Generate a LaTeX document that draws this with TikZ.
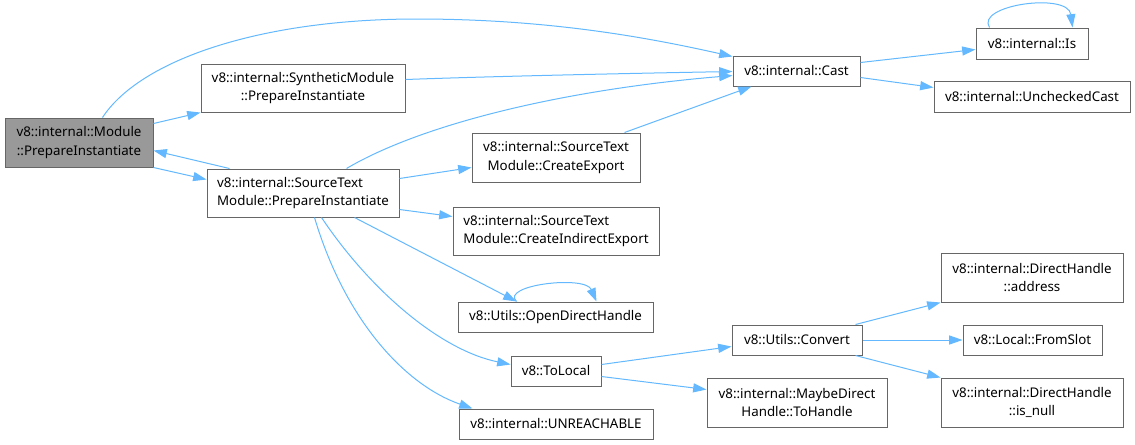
\documentclass[tikz,border=0pt]{standalone}
\usepackage{fontspec}
\setmainfont{Noto Sans}
\usetikzlibrary{arrows.meta,calc}
\definecolor{edgeblue}{HTML}{63B8FF}
\definecolor{boxline}{HTML}{666666}
\definecolor{mainfill}{HTML}{999999}
\tikzset{
  fn/.style 2 args={draw=boxline, line width=0.75pt, fill=white, inner sep=0pt,
    minimum width=#1*0.75pt, minimum height=#2*0.75pt, align=center,
    font=\fontsize{10pt}{13.9pt}\selectfont},
  call/.style={draw=edgeblue, line width=0.75pt, -{Triangle[length=10pt,width=6.8pt]}}
}
\begin{document}
\begin{tikzpicture}[x=0.75pt,y=-0.75pt]
\useasboundingbox (0,0) rectangle (1135,444);
\node[fn={148}{49}, fill=mainfill] (mod) at (79,142.5) {v8::internal::Module\\::PrepareInstantiate};
\node[fn={204}{48}] (syn) at (303,88) {v8::internal::SyntheticModule\\::PrepareInstantiate};
\node[fn={192}{48}, align=left] (stp) at (303,193) {v8::internal::SourceText\\Module::PrepareInstantiate};
\node[fn={168}{49}] (cex) at (556,157.5) {v8::internal::SourceText\\Module::CreateExport};
\node[fn={206}{48}, align=left] (cie) at (556,231) {v8::internal::SourceText\\Module::CreateIndirectExport};
\node[fn={195}{30}] (odh) at (555.5,317) {v8::Utils::OpenDirectHandle};
\node[fn={90}{30}] (tol) at (556,371) {v8::ToLocal};
\node[fn={194}{30}] (unr) at (556,424) {v8::internal::UNREACHABLE};
\node[fn={127}{30}] (cast) at (796.5,71) {v8::internal::Cast};
\node[fn={112}{31}] (is) at (1032,43.5) {v8::internal::Is};
\node[fn={196}{31}] (uc) at (1032,96.5) {v8::internal::UncheckedCast};
\node[fn={130}{30}] (conv) at (797,340) {v8::Utils::Convert};
\node[fn={182}{49}] (addr) at (1032,277.5) {v8::internal::DirectHandle\\::address};
\node[fn={139}{30}] (fs) at (1032.5,340) {v8::Local::FromSlot};
\node[fn={182}{49}] (isn) at (1032,402.5) {v8::internal::DirectHandle\\::is\_null};
\node[fn={180}{49}] (mdh) at (797,402.5) {v8::internal::MaybeDirect\\Handle::ToHandle};

% edges
\draw[call] ($(mod.north west)+(98,0)$) .. controls (140,60) and (260,19) .. (417,19)
  .. controls (550,19) and (650,38) .. ($(cast.north west)+(0,1)$);
\draw[call] ($(mod.north east)+(0,6)$) -- (syn.south west);
\draw[call] (mod.south east) -- ($(stp.north west)+(0,11)$);
\draw[call] ($(stp.north west)+(23,0)$) -- ($(mod.north east)+(0,33)$);
\draw[call] ($(syn.north east)+(0,16)$) .. controls (500,76) and (650,73) .. ($(cast.north west)+(0,16)$);
\draw[call] ($(stp.north west)+(140,0)$) .. controls (420,125) and (560,90) .. ($(cast.north west)+(0,20)$);
\draw[call] ($(cex.north west)+(153,0)$) -- ($(cast.south west)+(19,0)$);
\draw[call] ($(stp.north east)+(0,10)$) -- ($(cex.north west)+(0,35)$);
\draw[call] ($(stp.north east)+(0,41)$) -- ($(cie.north west)+(0,10)$);
\draw[call] ($(stp.south west)+(148,0)$) -- ($(odh.north west)+(59,0)$);
\draw[call] ($(odh.north west)+(59,0)$) .. controls (500,285) and (585,275) .. ($(odh.north west)+(139,0)$);
\draw[call] ($(stp.south west)+(115,0)$) .. controls (370,290) and (440,350) .. ($(tol.north west)+(0,9)$);
\draw[call] ($(stp.south west)+(108,0)$) .. controls (345,320) and (405,385) .. ($(unr.north west)+(14,0)$);
\draw[call] ($(tol.north east)+(0,9)$) -- ($(conv.north west)+(0,22)$);
\draw[call] ($(tol.north east)+(0,21)$) -- ($(mdh.north west)+(0,12)$);
\draw[call] ($(cast.north east)+(0,7)$) -- ($(is.north west)+(0,22)$);
\draw[call] ($(cast.north east)+(0,22)$) -- ($(uc.north west)+(0,7)$);
\draw[call] ($(is.north west)+(14,0)$) .. controls (975,5) and (1068,-8) .. ($(is.north west)+(97,0)$);
\draw[call] ($(conv.north east)+(-7,0)$) -- (addr.south west);
\draw[call] (conv.east) -- (fs.west);
\draw[call] ($(conv.south east)+(-7,0)$) -- (isn.north west);
\end{tikzpicture}
\end{document}
